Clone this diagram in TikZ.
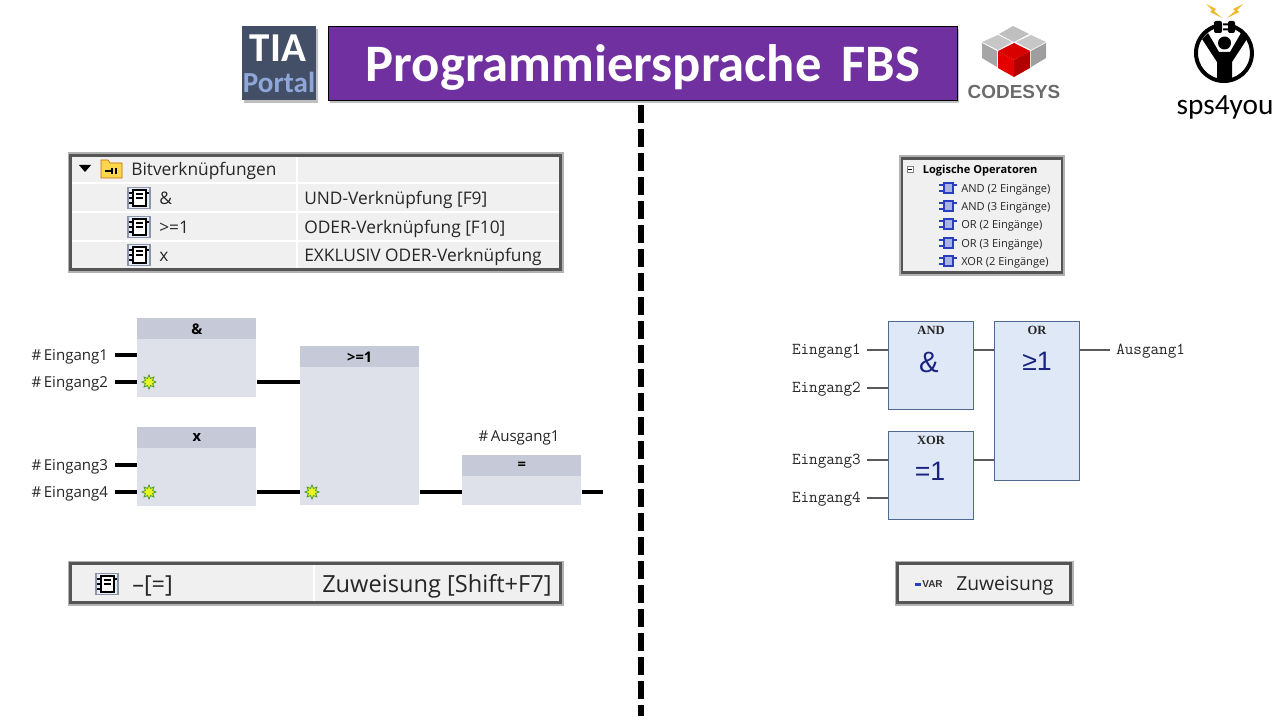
\documentclass[tikz,border=0pt]{standalone}
\usepackage{fontspec}
\setmainfont{Open Sans}
\newfontfamily\calfont{Carlito}
\newfontfamily\codfont{Liberation Sans}
\newfontfamily\slabfont{Liberation Serif}
\usepackage{tikz}
\usetikzlibrary{positioning,arrows.meta,shapes.geometric,calc,shadows}
\definecolor{tiagrey}{HTML}{434F66}
\definecolor{tiablue}{HTML}{8FA6D8}
\definecolor{titlepurple}{HTML}{7030A0}
\definecolor{panelgrey}{HTML}{F0F0F0}
\definecolor{panelrim}{HTML}{555555}
\definecolor{headgrey}{HTML}{C5C9D8}
\definecolor{bodygrey}{HTML}{DFE1EA}
\definecolor{cdsfill}{HTML}{DFE8F6}
\definecolor{cdsrim}{HTML}{4F6A8F}
\definecolor{cdsnavy}{HTML}{1A2480}
\definecolor{cdsicon}{HTML}{2A3FC0}
\definecolor{codgrey}{HTML}{6B6B6B}
\definecolor{starlime}{HTML}{E8F420}
\definecolor{stargreen}{HTML}{4E9A2E}
\definecolor{boltgold}{HTML}{EDB92E}
\definecolor{iconrim}{HTML}{8A94AC}
\definecolor{iconfill}{HTML}{E8EDF5}
\def\pxu{0.75pt}
\tikzset{
  softshadow/.style={drop shadow={shadow xshift=1.5pt, shadow yshift=-2pt, fill=black, opacity=0.25}},
  titlebox/.style={rectangle, draw=black, fill=titlepurple, line width=0.6pt, minimum width=629*\pxu, minimum height=74*\pxu, softshadow},
  tiabox/.style={rectangle, fill=tiagrey, minimum width=74*\pxu, minimum height=74*\pxu, softshadow},
  panel/.style={rectangle, draw=panelrim, fill=panelgrey, line width=2.2pt, anchor=north west, inner sep=0pt, outer sep=0pt,
                preaction={draw=black!30, line width=4.5pt}},
  sepline/.style={draw=white, line width=1pt},
  txt/.style={anchor=mid west, inner sep=0pt, yshift=-2.2pt, font=\fontsize{#1}{#1}\selectfont, text=black!85},
  txt/.default=13,
  fbdbody/.style={rectangle, fill=bodygrey, anchor=north west, inner sep=0pt, minimum width=119*\pxu},
  fbdhead/.style={rectangle, fill=headgrey, anchor=north, inner sep=0pt, minimum width=119*\pxu, minimum height=21*\pxu, font=\bfseries\fontsize{11}{11}\selectfont},
  siglabel/.style={anchor=east, inner ysep=0pt, inner xsep=5pt, text height=9.5pt, text depth=1.5pt, font=\fontsize{11.3}{11.3}\selectfont, text=black!85},
  wire/.style={draw=black, line width=2.3pt},
  lmark/.style={star, star points=8, star point ratio=1.8, fill=starlime, draw=stargreen, line width=0.6pt, inner sep=0pt, minimum size=14*\pxu},
  cdsblock/.style={rectangle, draw=cdsrim, fill=cdsfill, line width=0.8pt, anchor=north west, inner sep=0pt, minimum width=85*\pxu},
  cdstitle/.style={anchor=north, inner sep=0pt, font=\slabfont\bfseries\fontsize{9.4}{9.4}\selectfont, text=black!85},
  cdssym/.style={inner sep=0pt, font=\codfont\fontsize{#1}{#1}\selectfont, text=cdsnavy},
  cdssym/.default=20,
  cdslabel/.style={inner xsep=4.5pt, inner ysep=0pt, text height=8.5pt, text depth=2pt, font=\ttfamily\fontsize{12.5}{12.5}\selectfont, text=black!85},
  cwire/.style={draw=black!65, line width=1pt},
  divider/.style={draw=black, line width=5pt, dash pattern=on 13.5pt off 4.5pt},
  tiaicon/.pic={
    \draw[draw=iconrim, fill=iconfill, line width=0.8pt] (-11,-10.5) rectangle (11,10.5);
    \draw[draw=black, fill=white, line width=1.3pt] (-6,-8) rectangle (7,8);
    \draw[draw=black, line width=1.2pt] (-10,-5) -- (-6,-5) (-10,0) -- (-6,0) (-10,5) -- (-6,5) (7,-5) -- (10,-5);
    \draw[draw=black, line width=1pt] (-3,-4) -- (4,-4) (-3,0) -- (4,0);
  },
  cdsglyph/.pic={
    \fill[cdsicon] (-5,-6) rectangle (6,6);
    \fill[white!60!cdsicon] (-3,-4) rectangle (4,4);
    \draw[cdsicon, line width=0.9pt] (-9,-3) -- (-5,-3) (-9,3) -- (-5,3) (6,-3) -- (9,-3);
  },
}
\begin{document}
\begin{tikzpicture}[x=0.75pt, y=-0.75pt]
  \useasboundingbox (0,0) rectangle (1280,720);
  \fill[white] (0,0) rectangle (1280,720);

  % header
  \node[tiabox] (tia) at (279,63) {};
  \node[inner sep=0pt, text=white, font=\calfont\bfseries\fontsize{30.8}{30.8}\selectfont] (tiaword) at (278,48) {TIA};
  \node[inner sep=0pt, text=tiablue, font=\calfont\bfseries\fontsize{21.8}{21.8}\selectfont] (portalword) at (279,82) {Portal};
  \node[titlebox] (title) at (642.5,63) {};
  \node[inner sep=0pt, text=white, font=\calfont\bfseries\fontsize{39.5}{39.5}\selectfont] (titleword) at (643,67) {Programmiersprache\hspace{6pt} FBS};

  % divider
  \coordinate (divtop) at (641,105);
  \coordinate (divbot) at (641,716);
  \draw[divider] (divtop) -- (divbot);

  % codesys logo
  \fill[black!25] (1013,26) -- (1029,34) -- (1014,42) -- (999,34) -- cycle;
  \fill[black!22] (982,42) -- (998,35) -- (1012,42) -- (998,50) -- cycle;
  \fill[black!35] (982,43) -- (997,51) -- (997,67) -- (982,58) -- cycle;
  \fill[black!22] (1046,42) -- (1031,35) -- (1016,42) -- (1031,50) -- cycle;
  \fill[black!38] (1046,43) -- (1031,51) -- (1031,67) -- (1046,58) -- cycle;
  \fill[red!85!black] (1014,43) -- (1030,51) -- (1014,60) -- (998,51) -- cycle;
  \fill[red!90!black] (998,51) -- (1014,60) -- (1014,77) -- (998,68) -- cycle;
  \fill[red!70!black] (1030,51) -- (1014,60) -- (1014,77) -- (1030,68) -- cycle;
  \node[inner sep=0pt, text=codgrey, font=\codfont\bfseries\fontsize{14.2}{14.2}\selectfont] (codword) at (1014,92) {CODESYS};

  % sps4you logo
  \draw[black, line width=3pt] (1231.2,26) arc[start angle=-75, end angle=255, radius=28];
  \fill[black] (1224.5,43) circle (6.5);
  \fill[black] (1202,39) -- (1208,33) -- (1219,52) -- (1230,52) -- (1241,33) -- (1247,39) -- (1232,62) -- (1232,80) -- (1217,80) -- (1217,62) -- cycle;
  \fill[black, rounded corners=1.5pt] (1214,21) rectangle (1222,33);
  \fill[black, rounded corners=1.5pt] (1228,21) rectangle (1235,33);
  \fill[black] (1223,23.5) rectangle (1228,25.5) (1223,28.5) rectangle (1228,30.5);
  \fill[boltgold] (1206,4) -- (1216,9) -- (1214,11) -- (1222,18) -- (1210,12) -- (1212,10) -- cycle;
  \fill[boltgold] (1243,4) -- (1233,9) -- (1235,11) -- (1227,18) -- (1239,12) -- (1237,10) -- cycle;
  \node[inner sep=0pt, text=black, font=\calfont\fontsize{22}{22}\selectfont] (spsword) at (1225,107) {sps4you};

  % tia list
  \node[panel, minimum width=490*\pxu, minimum height=114*\pxu] (tialist) at (70.5,155.5) {};
  \foreach \y in {183,212,241} \draw[sepline] (72,\y) -- (559,\y);
  \draw[sepline] (297,157) -- (297,268);
  \fill[black] (79,165) -- (91,165) -- (85,172) -- cycle;
  \fill[yellow!60!orange!70, draw=orange!80!black, line width=0.5pt] (101,160) -- (108,160) -- (110,163) -- (122,163) -- (122,178) -- (101,178) -- cycle;
  \draw[black, line width=0.8pt] (105,171) -- (111,171) (112,168) -- (112,174) (116,168) -- (116,174);
  \node[txt] (bitword) at (131,169) {Bitverknüpfungen};
  \foreach \y in {198,227,255} \pic at (139,\y) {tiaicon};
  \node[txt] (rowand) at (159,198) {\&};
  \node[txt] (rowor) at (159,227) {>=1};
  \node[txt] (rowx) at (159,255) {x};
  \node[txt] (descand) at (304,198) {UND-Verknüpfung [F9]};
  \node[txt] (descor) at (304,227) {ODER-Verknüpfung [F10]};
  \node[txt] (descx) at (304,255) {EXKLUSIV ODER-Verknüpfung};

  % tia blocks
  \node[fbdbody, minimum height=79*\pxu] (andblk) at (137,318) {};
  \node[fbdhead] (andhead) at (andblk.north) {\&};
  \node[fbdbody, minimum height=79*\pxu] (xblk) at (137,427) {};
  \node[fbdhead] (xhead) at (xblk.north) {x};
  \node[fbdbody, minimum height=159*\pxu] (orblk) at (300,346) {};
  \node[fbdhead] (orhead) at (orblk.north) {>=1};
  \node[fbdbody, minimum height=50*\pxu] (eqblk) at (462,455) {};
  \node[fbdhead] (eqhead) at (eqblk.north) {=};

  \node[siglabel] (ein1) at (115,355) {\#\,Eingang1};
  \node[siglabel] (ein2) at (115,382) {\#\,Eingang2};
  \node[siglabel] (ein3) at (115,465) {\#\,Eingang3};
  \node[siglabel] (ein4) at (115,492) {\#\,Eingang4};
  \node[inner sep=0pt, font=\fontsize{11.3}{11.3}\selectfont, text=black!85] (aus1) at (519,438) {\#\,Ausgang1};
  \coordinate (ausend) at (603,492);

  \node[lmark] (mark1) at (149,382) {};
  \node[lmark] (mark2) at (149,492) {};
  \node[lmark] (mark3) at (312,492) {};

  \draw[wire] (ein1.east) -- (ein1 -| andblk.west);
  \draw[wire] (ein2.east) -- (ein2 -| andblk.west);
  \draw[wire] (ein3.east) -- (ein3 -| xblk.west);
  \draw[wire] (ein4.east) -- (ein4 -| xblk.west);
  \draw[wire] (ein2 -| andblk.east) -- (ein2 -| orblk.west);
  \draw[wire] (ein4 -| xblk.east) -- (ein4 -| orblk.west);
  \draw[wire] (ein4 -| orblk.east) -- (ein4 -| eqblk.west);
  \draw[wire] (ausend -| eqblk.east) -- (ausend);

  % tia assign
  \node[panel, minimum width=490*\pxu, minimum height=39*\pxu] (tiaassign) at (70.5,563.5) {};
  \draw[sepline] (314,565) -- (314,601);
  \pic at (107,584) {tiaicon};
  \node[txt=17.6, yshift=-1.5pt] (assignop) at (132,584) {--[=]};
  \node[txt=17.7, yshift=-1.5pt] (assigndesc) at (322,584) {Zuweisung [Shift+F7]};

  % codesys list
  \node[panel, minimum width=160*\pxu, minimum height=114*\pxu] (cdslist) at (902,158.5) {};
  \draw[black!50, fill=white, line width=0.5pt] (907,166) rectangle (913,172);
  \draw[black, line width=0.5pt] (908,169) -- (912,169);
  \node[txt=8.3, font=\bfseries\fontsize{8.3}{8.3}\selectfont, text=black, yshift=1.2pt] (cdshead) at (922.5,169) {Logische Operatoren};
  \foreach \y in {188,206,224,243,261} \pic at (948,\y) {cdsglyph};
  \node[txt=8.3, yshift=1.8pt] (rowa) at (961,188) {AND (2 Eingänge)};
  \node[txt=8.3, yshift=1.8pt] (rowb) at (961,206) {AND (3 Eingänge)};
  \node[txt=8.3, yshift=1.8pt] (rowc) at (961,224) {OR (2 Eingänge)};
  \node[txt=8.3, yshift=1.8pt] (rowd) at (961,243) {OR (3 Eingänge)};
  \node[txt=8.3, yshift=1.8pt] (rowe) at (961,261) {XOR (2 Eingänge)};

  % codesys blocks
  \node[cdsblock, minimum height=88*\pxu] (cand) at (888,321) {};
  \node[cdsblock, minimum height=88*\pxu] (cxor) at (888,431) {};
  \node[cdsblock, minimum height=159*\pxu] (cor) at (994,321) {};
  \node[cdstitle] (candt) at ([yshift=-4pt]cand.north) {AND};
  \node[cdstitle] (cxort) at ([yshift=-4pt]cxor.north) {XOR};
  \node[cdstitle] (cort) at ([yshift=-4pt]cor.north) {OR};
  \node[cdssym=22] (candsym) at (929,362) {\&};
  \node[cdssym] (cxorsym) at (930,471) {=1};
  \node[cdssym] (corsym) at (1037,361) {≥1};

  \node[cdslabel, anchor=east] (cin1) at (867,350) {Eingang1};
  \node[cdslabel, anchor=east] (cin2) at (867,388) {Eingang2};
  \node[cdslabel, anchor=east] (cin3) at (867,460) {Eingang3};
  \node[cdslabel, anchor=east] (cin4) at (867,498) {Eingang4};
  \node[cdslabel, anchor=west] (cout) at (1110,350) {Ausgang1};

  \draw[cwire] (cin1.east) -- (cin1 -| cand.west);
  \draw[cwire] (cin2.east) -- (cin2 -| cand.west);
  \draw[cwire] (cin3.east) -- (cin3 -| cxor.west);
  \draw[cwire] (cin4.east) -- (cin4 -| cxor.west);
  \draw[cwire] (cin1 -| cand.east) -- (cin1 -| cor.west);
  \draw[cwire] (cin3 -| cxor.east) -- (cin3 -| cor.west);
  \draw[cwire] (cin1 -| cor.east) -- (cout.west);

  % codesys assign
  \node[panel, minimum width=173*\pxu, minimum height=39*\pxu] (cdsassign) at (897.5,563.5) {};
  \fill[cdsicon] (915,583) rectangle (921,586);
  \node[inner sep=0pt, font=\codfont\bfseries\fontsize{7.5}{7.5}\selectfont, text=black!80] (varword) at (932.5,584.5) {VAR};
  \node[txt=14.5] (cdsassigntxt) at (956,584) {Zuweisung};
\end{tikzpicture}
\end{document}
